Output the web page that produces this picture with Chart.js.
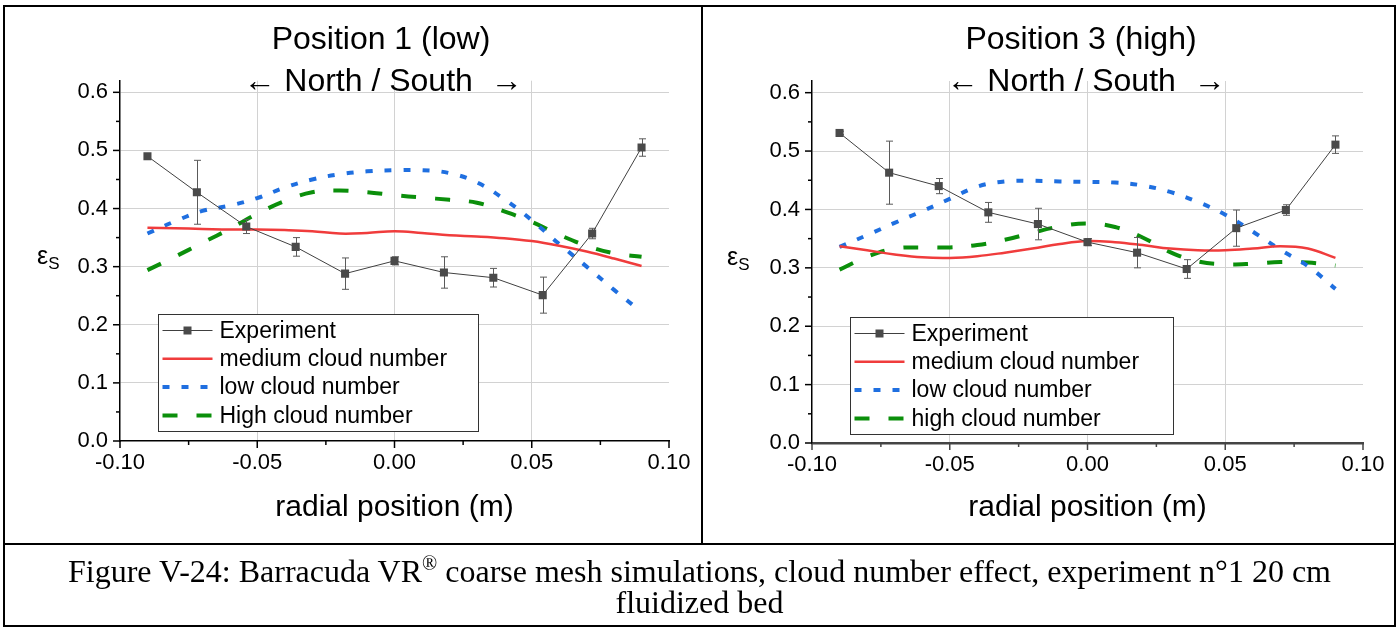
<!DOCTYPE html>
<html>
<head>
<meta charset="utf-8">
<script src="https://cdn.jsdelivr.net/npm/chart.js@4.4.0/dist/chart.umd.min.js"></script>
<style>
  body { margin: 0; background: #fff; font-family: "Liberation Sans", Arial, sans-serif; }
  #page { position: relative; width: 1399px; height: 628px; overflow: hidden; background: #fff; }
  canvas { position: absolute; top: 0; }
  .frame { position: absolute; left: 3px; top: 5px; width: 1389px; height: 618px; border: 2px solid #000; }
  .vline { position: absolute; left: 701px; top: 5px; width: 2px; height: 539px; background: #000; }
  .hline { position: absolute; left: 3px; top: 543px; width: 1393px; height: 2px; background: #000; }
  .title { position: absolute; width: 500px; text-align: center; font-size: 32px; line-height: 36px; color: #000; white-space: pre; }
  .ylab { position: absolute; font-size: 25px; line-height: 30px; color: #000; }
  .ylab sub { font-size: 17px; vertical-align: -5px; }
  .caption { position: absolute; left: 0; top: 556px; width: 1399px; text-align: center; color: #000;
             font-family: "Liberation Serif", "Times New Roman", serif; font-size: 32px; line-height: 31px; }
  .caption sup { font-size: 20px; line-height: 0; }
</style>
</head>
<body>
<div id="page">
  <canvas id="pos1" width="700" height="544" style="left:0;width:700px;height:544px"></canvas>
  <canvas id="pos3" width="697" height="544" style="left:702px;width:697px;height:544px"></canvas>

  <div class="title" style="left:131px;top:20px">Position 1 (low)</div>
  <div class="title" style="left:133px;top:62px">← North / South  →</div>
  <div class="title" style="left:831px;top:20px">Position 3 (high)</div>
  <div class="title" style="left:836px;top:62px">← North / South  →</div>

  <div class="ylab" style="left:37px;top:240px">ε<sub>S</sub></div>
  <div class="ylab" style="left:727px;top:241px">ε<sub>S</sub></div>

  <div class="frame"></div>
  <div class="vline"></div>
  <div class="hline"></div>

  <div class="caption">Figure V-24: Barracuda VR<sup>®</sup> coarse mesh simulations, cloud number effect, experiment n°1 20 cm<br>fluidized bed</div>
</div>

<script>
// radial positions (m)
const expX = [-0.09, -0.072, -0.054, -0.036, -0.018, 0, 0.018, 0.036, 0.054, 0.072, 0.09];
const simX = [-0.09, -0.08, -0.07, -0.06, -0.05, -0.04, -0.03, -0.02, -0.01, 0,
              0.01, 0.02, 0.03, 0.04, 0.05, 0.06, 0.07, 0.08, 0.09];

// Position 1 (low)
const pos1Exp    = [0.490, 0.428, 0.369, 0.334, 0.288, 0.310, 0.290, 0.281, 0.251, 0.357, 0.505];
const pos1ExpErr = [0.004, 0.055, 0.012, 0.016, 0.027, 0.007, 0.027, 0.016, 0.031, 0.009, 0.015];
const pos1Medium = [0.367, 0.366, 0.365, 0.364, 0.364, 0.363, 0.361, 0.357, 0.358, 0.361,
                    0.358, 0.354, 0.352, 0.349, 0.344, 0.336, 0.326, 0.314, 0.301];
const pos1Low    = [0.357, 0.378, 0.396, 0.405, 0.418, 0.436, 0.450, 0.459, 0.464, 0.466,
                    0.466, 0.461, 0.445, 0.416, 0.380, 0.339, 0.300, 0.260, 0.222];
const pos1High   = [0.294, 0.317, 0.341, 0.365, 0.391, 0.413, 0.428, 0.431, 0.428, 0.423,
                    0.419, 0.415, 0.410, 0.395, 0.377, 0.355, 0.336, 0.323, 0.317];

// Position 3 (high)
const pos3Exp    = [0.531, 0.463, 0.440, 0.395, 0.375, 0.344, 0.326, 0.298, 0.368, 0.399, 0.511];
const pos3ExpErr = [0.003, 0.054, 0.013, 0.017, 0.027, 0.006, 0.026, 0.016, 0.031, 0.009, 0.015];
const pos3Medium = [0.337, 0.330, 0.323, 0.318, 0.317, 0.320, 0.326, 0.333, 0.341, 0.346,
                    0.344, 0.339, 0.333, 0.330, 0.330, 0.333, 0.337, 0.333, 0.317];
const pos3Low    = [0.336, 0.356, 0.377, 0.397, 0.418, 0.439, 0.448, 0.449, 0.448, 0.447,
                    0.446, 0.441, 0.430, 0.413, 0.391, 0.362, 0.331, 0.303, 0.264];
const pos3High   = [0.297, 0.319, 0.333, 0.335, 0.335, 0.339, 0.348, 0.360, 0.371, 0.376,
                    0.370, 0.352, 0.327, 0.311, 0.306, 0.307, 0.310, 0.309, 0.304];

const pos1Labels = ['Experiment', 'medium cloud number', 'low cloud number', 'High cloud number'];
const pos3Labels = ['Experiment', 'medium cloud number', 'low cloud number', 'high cloud number'];

const FONT = '"Liberation Sans", Arial, sans-serif';
const toXY = (xs, ys) => xs.map((x, i) => ({x, y: ys[i]}));
const isMajor = (v, step) => Math.abs(v / step - Math.round(v / step)) < 1e-6;

// error bars under the experiment markers
function errorBarsPlugin(xs, ys, errs) {
    return {
        id: 'errorBars',
        beforeDatasetDraw(chart, args) {
            if (args.index !== 0) return;
            const {ctx, scales: {x, y}} = chart;
            ctx.save();
            ctx.strokeStyle = '#5a5a5a';
            ctx.lineWidth = 1;
            xs.forEach((xv, i) => {
                const px = Math.round(x.getPixelForValue(xv)) + 0.5;
                const top = y.getPixelForValue(ys[i] + errs[i]);
                const bot = y.getPixelForValue(ys[i] - errs[i]);
                ctx.beginPath();
                ctx.moveTo(px, top); ctx.lineTo(px, bot);
                ctx.moveTo(px - 3.5, top); ctx.lineTo(px + 3.5, top);
                ctx.moveTo(px - 3.5, bot); ctx.lineTo(px + 3.5, bot);
                ctx.stroke();
            });
            ctx.restore();
        }
    };
}

// major + minor tick marks pointing outward
function tickMarksPlugin(color) {
    return {
        id: 'tickMarks',
        afterDraw(chart) {
            const {ctx, chartArea, scales: {x, y}} = chart;
            ctx.save();
            ctx.lineWidth = 1.5;
            ctx.strokeStyle = color;
            x.ticks.forEach(t => {
                const px = x.getPixelForValue(t.value);
                const len = isMajor(t.value, 0.05) ? 7 : 4;
                ctx.beginPath();
                ctx.moveTo(px, chartArea.bottom);
                ctx.lineTo(px, chartArea.bottom + len);
                ctx.stroke();
            });
            ctx.strokeStyle = '#000';
            y.ticks.forEach(t => {
                const py = y.getPixelForValue(t.value);
                const len = isMajor(t.value, 0.1) ? 7 : 4;
                ctx.beginPath();
                ctx.moveTo(chartArea.left - len, py);
                ctx.lineTo(chartArea.left, py);
                ctx.stroke();
            });
            ctx.restore();
        }
    };
}

// boxed legend inside the plot, lower left
function boxLegendPlugin(box) {
    return {
        id: 'boxLegend',
        afterDraw(chart) {
            const {ctx, chartArea} = chart;
            const x0 = Math.round(chartArea.left + box.dx) + 0.5;
            const y1 = Math.round(chartArea.bottom - box.dy) + 0.5;
            const y0 = y1 - box.h;
            ctx.save();
            ctx.fillStyle = '#fff';
            ctx.fillRect(x0, y0, box.w, box.h);
            ctx.strokeStyle = '#333';
            ctx.lineWidth = 1;
            ctx.strokeRect(x0, y0, box.w, box.h);
            chart.data.datasets.forEach((ds, i) => {
                const cy = y0 + 16 + i * 28.3;
                ctx.beginPath();
                ctx.setLineDash(ds.borderDash || []);
                ctx.lineWidth = ds.borderWidth;
                ctx.strokeStyle = ds.borderColor;
                ctx.moveTo(x0 + 4, cy);
                ctx.lineTo(x0 + 54, cy);
                ctx.stroke();
                ctx.setLineDash([]);
                if (ds.pointRadius) {
                    ctx.fillStyle = ds.pointBackgroundColor;
                    ctx.fillRect(x0 + 25, cy - 4, 8, 8);
                }
                ctx.fillStyle = '#000';
                ctx.font = '23px ' + FONT;
                ctx.textBaseline = 'middle';
                ctx.fillText(ds.label, x0 + 61, cy + 1);
            });
            ctx.restore();
        }
    };
}

function makeChart(id, o) {
    const datasets = [
        {
            label: o.labels[0], data: toXY(expX, o.exp),
            borderColor: '#404040', borderWidth: 1, tension: 0,
            pointStyle: 'rect', pointRadius: 5.7, pointBorderWidth: 0,
            pointBackgroundColor: '#4a4a4a', pointBorderColor: '#4a4a4a'
        },
        {
            label: o.labels[1], data: toXY(simX, o.medium),
            borderColor: '#f03c3c', borderWidth: 2.5, pointRadius: 0, tension: 0.4
        },
        {
            label: o.labels[2], data: toXY(simX, o.low),
            borderColor: '#1f6fe0', borderWidth: 4, borderDash: [7, 12], pointRadius: 0, tension: 0.4
        },
        {
            label: o.labels[3], data: toXY(simX, o.high),
            borderColor: '#0b8f0b', borderWidth: 4, borderDash: [15, 19], pointRadius: 0, tension: 0.4
        }
    ];

    return new Chart(document.getElementById(id).getContext('2d'), {
        type: 'line',
        data: {datasets},
        options: {
            responsive: false,
            animation: false,
            events: [],
            layout: {padding: {left: 0, right: o.padRight, top: o.padTop, bottom: 0}},
            plugins: {legend: {display: false}, tooltip: {enabled: false}, title: {display: false}},
            scales: {
                x: {
                    type: 'linear', min: -0.1, max: 0.1,
                    afterFit: s => { s.height = o.xHeight; },
                    border: {display: true, color: o.xAxisColor, width: o.xAxisWidth},
                    grid: {
                        drawTicks: false, lineWidth: 1,
                        color: c => (c.tick && isMajor(c.tick.value, 0.05) && Math.abs(c.tick.value) < 0.09)
                            ? '#d2d2d2' : 'rgba(0,0,0,0)'
                    },
                    ticks: {
                        stepSize: 0.025, autoSkip: false, maxRotation: 0, padding: 9,
                        color: '#000', font: {family: FONT, size: 22},
                        callback: v => isMajor(v, 0.05) ? (Math.abs(v) < 1e-9 ? 0 : v).toFixed(2) : ''
                    },
                    title: {
                        display: true, text: 'radial position (m)', color: '#000',
                        font: {family: FONT, size: 30}, padding: {top: 0, bottom: 18}
                    }
                },
                y: {
                    type: 'linear', min: 0, max: 0.62,
                    afterFit: s => { s.width = o.yWidth; },
                    border: {display: true, color: '#000', width: 1.5},
                    grid: {
                        drawTicks: false, lineWidth: 1,
                        color: c => (c.tick && isMajor(c.tick.value, 0.1) && c.tick.value > 0.05)
                            ? '#d2d2d2' : 'rgba(0,0,0,0)'
                    },
                    ticks: {
                        stepSize: 0.05, includeBounds: false, autoSkip: false, padding: 12,
                        color: '#000', font: {family: FONT, size: 22},
                        callback: v => isMajor(v, 0.1) ? v.toFixed(1) : ''
                    }
                }
            }
        },
        plugins: [
            errorBarsPlugin(expX, o.exp, o.err),
            tickMarksPlugin(o.xAxisColor),
            boxLegendPlugin(o.legend)
        ]
    });
}

makeChart('pos1', {
    labels: pos1Labels, exp: pos1Exp, err: pos1ExpErr,
    medium: pos1Medium, low: pos1Low, high: pos1High,
    padRight: 31, padTop: 80.7, xHeight: 103, yWidth: 120,
    xAxisColor: '#000', xAxisWidth: 1.5,
    legend: {dx: 38, dy: 10, w: 320, h: 117}
});

makeChart('pos3', {
    labels: pos3Labels, exp: pos3Exp, err: pos3ExpErr,
    medium: pos3Medium, low: pos3Low, high: pos3High,
    padRight: 36, padTop: 81, xHeight: 101, yWidth: 110,
    xAxisColor: '#444', xAxisWidth: 2.5,
    legend: {dx: 37.5, dy: 9.5, w: 323, h: 117}
});
</script>
</body>
</html>
